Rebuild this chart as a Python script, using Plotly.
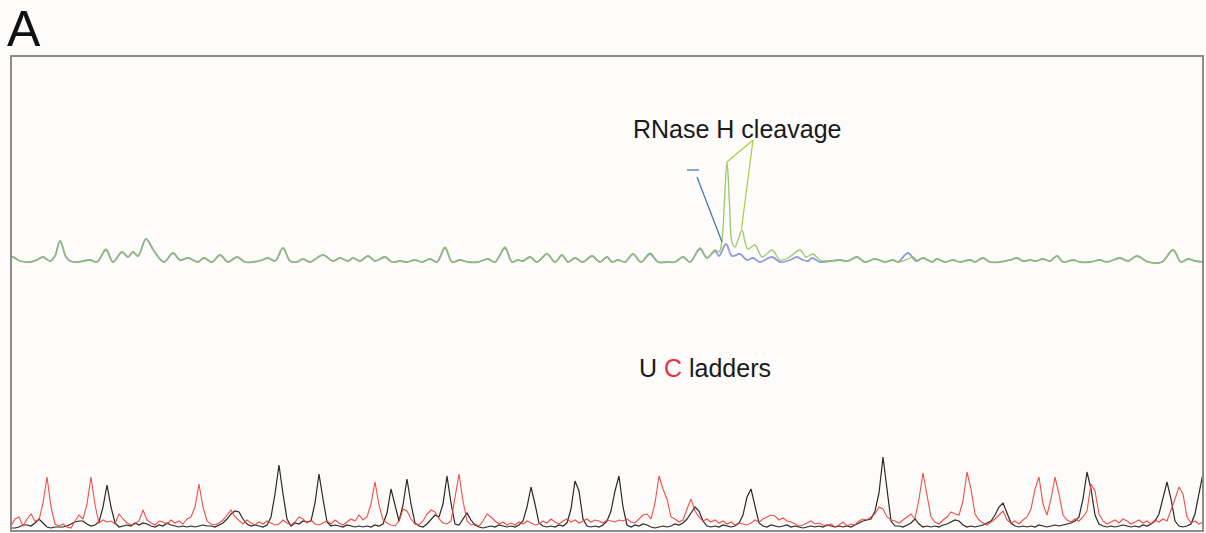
import numpy as np
import plotly.graph_objects as go

# ---------------------------------------------------------------------------
# Upper panel: RNase H probing traces (extrema of each smoothed trace)
# scan position, signal above baseline
# ---------------------------------------------------------------------------
blue_scan = [11, 13, 20, 30, 37, 43, 50, 55, 60, 66, 70, 78, 90, 97, 106, 113, 122, 128, 133, 138,
             146, 154, 164, 173, 180, 188, 198, 204, 212, 220, 228, 237, 245, 253, 262, 268, 275, 283, 290, 297,
             303, 310, 323, 333, 340, 348, 353, 360, 368, 375, 385, 392, 400, 407, 415, 422, 430, 437, 445, 452,
             460, 468, 478, 488, 495, 505, 512, 518, 523, 530, 537, 547, 555, 562, 568, 575, 583, 592, 600, 607,
             612, 618, 625, 633, 641, 650, 658, 667, 675, 683, 690, 700, 707, 715, 719, 726, 732, 740, 747, 753,
             760, 772, 780, 790, 797, 803, 808, 812, 820, 830, 840, 848, 857, 865, 875, 885, 893, 898, 908, 916,
             923, 932, 937, 945, 953, 960, 970, 975, 983, 990, 1000, 1010, 1017, 1023, 1030, 1036, 1043, 1050, 1057, 1063,
             1073, 1080, 1090, 1100, 1107, 1120, 1128, 1137, 1148, 1162, 1173, 1181, 1188, 1195, 1203]
blue_signal = [4, 5, 1, 0, 2, 5, 1, 6, 21, 5, 1, 0, 2, 0, 12, 0, 10, 5, 10, 6,
               23, 11, 0, 9, 2, 4, 0, 4, 0, 7, 0, 5, 0, 0, 2, 4, 1, 14, 1, 0,
               3, 0, 7, 1, 4, 1, 4, 1, 6, 1, 5, 0, 1, 0, 2, 0, 3, 0, 14, 0,
               2, 0, 0, 3, 0, 14, 0, 2, 1, 5, 0, 8, 0, 7, 0, 4, 0, 6, 0, 5,
               0, 2, 0, 8, 0, 8, 0, 0, 0, 5, 0, 13, 4, 11, 6, 18, 6, 8, 2, 4,
               0, 5, 0, 2, 5, 2, 1, 4, 0, 1, 2, 1, 5, 0, 3, 0, 2, 0, 9, 1,
               4, 0, 3, 0, 2, 0, 2, 0, 4, 0, 0, 2, 4, 1, 2, 1, 3, 1, 6, 0,
               2, 0, 0, 2, 0, 4, 1, 6, 0, 0, 12, 0, 3, 1, 0]

green_scan = [11, 13, 20, 30, 37, 43, 50, 55, 60, 66, 70, 78, 90, 97, 106, 113, 122, 128, 133, 138,
              146, 154, 164, 173, 180, 188, 198, 204, 212, 220, 228, 237, 245, 253, 262, 268, 275, 283, 290, 297,
              303, 310, 323, 333, 340, 348, 353, 360, 368, 375, 385, 392, 400, 407, 415, 422, 430, 437, 445, 452,
              460, 468, 478, 488, 495, 505, 512, 518, 523, 530, 537, 547, 555, 562, 568, 575, 583, 592, 600, 607,
              612, 618, 625, 633, 641, 650, 658, 667, 675, 683, 690, 700, 707, 715, 719, 722, 724.5, 727, 729.5, 732,
              735, 738, 742, 745, 748, 755, 762, 772, 780, 788, 800, 806, 813, 820, 830, 840, 848, 857, 865, 875,
              885, 893, 898, 908, 913, 918, 923, 932, 937, 945, 953, 960, 970, 975, 983, 990, 1000, 1010, 1017, 1023,
              1030, 1036, 1043, 1050, 1057, 1063, 1073, 1080, 1090, 1100, 1107, 1120, 1128, 1137, 1148, 1162, 1173, 1181, 1188, 1195,
              1203]
green_signal = [4, 5, 1, 0, 2, 5, 1, 6, 21, 5, 1, 0, 2, 0, 13, 0, 10, 5, 10, 6,
                23, 11, 0, 9, 2, 4, 0, 4, 0, 7, 0, 5, 0, 0, 2, 4, 1, 14, 1, 0,
                3, 0, 7, 1, 4, 1, 4, 1, 6, 1, 5, 0, 1, 0, 2, 0, 3, 0, 15, 0,
                2, 0, 0, 3, 0, 15, 0, 2, 1, 5, 0, 8, 0, 7, 0, 4, 0, 6, 0, 5,
                0, 2, 0, 8, 0, 9, 0, 0, 0, 5, 0, 14, 4, 12, 10, 22, 62, 100, 58, 20,
                15, 22, 32, 20, 13, 17, 5, 12, 2, 4, 12, 5, 8, 2, 1, 2, 1, 5, 0, 3,
                0, 2, 0, 3, 5, 1, 4, 0, 3, 0, 2, 0, 2, 0, 4, 0, 0, 2, 4, 1,
                2, 1, 3, 1, 6, 0, 2, 0, 0, 2, 0, 4, 1, 6, 0, 0, 12, 0, 3, 1,
                0]

# ---------------------------------------------------------------------------
# Lower panel: U (black) and C (red) sequencing ladders, one value every 4 scans
# ---------------------------------------------------------------------------
ladder_start = 11
ladder_step = 4

u_ladder = [
    1, 1, 2, 4, 4, 3, 6, 10, 6, 2, 1, 2, 2, 2, 3, 5, 7, 8, 8, 5, 3, 4, 7, 22, 44,
    22, 6, 2, 3, 4, 3, 6, 4, 6, 5, 3, 2, 4, 3, 6, 4, 3, 2, 3, 2, 3, 2, 3, 4, 3,
    3, 2, 4, 6, 10, 15, 18, 17, 10, 5, 3, 4, 3, 2, 4, 12, 35, 64, 35, 10, 3, 6, 5, 8, 7,
    8, 26, 55, 30, 7, 3, 4, 3, 2, 4, 3, 2, 3, 2, 3, 2, 4, 3, 5, 16, 40, 25, 8, 24, 50,
    25, 6, 3, 2, 5, 10, 14, 12, 25, 53, 26, 5, 4, 10, 16, 9, 4, 2, 1, 2, 3, 2, 4, 3, 2,
    3, 2, 4, 8, 22, 42, 25, 6, 3, 2, 3, 2, 4, 3, 6, 20, 48, 38, 10, 3, 2, 3, 2, 4, 8,
    18, 38, 53, 22, 4, 2, 4, 3, 5, 4, 2, 1, 2, 3, 2, 3, 5, 4, 6, 10, 16, 22, 18, 8, 3,
    2, 3, 2, 4, 3, 2, 3, 6, 14, 32, 40, 22, 6, 3, 2, 4, 3, 2, 3, 4, 2, 3, 2, 1, 2,
    3, 2, 3, 2, 4, 3, 2, 3, 2, 3, 2, 4, 6, 8, 9, 10, 18, 36, 72, 40, 8, 3, 3, 2, 4,
    6, 10, 5, 2, 3, 2, 3, 2, 4, 5, 7, 9, 8, 4, 2, 3, 2, 3, 4, 6, 8, 14, 22, 26, 16,
    6, 3, 2, 3, 2, 3, 2, 4, 3, 2, 3, 4, 3, 4, 5, 6, 8, 12, 30, 57, 40, 14, 5, 3, 2,
    3, 2, 3, 4, 3, 2, 3, 2, 4, 3, 5, 8, 15, 32, 47, 30, 8, 3, 2, 3, 5, 15, 35, 56,
]

c_ladder = [
    3, 10, 12, 3, 10, 15, 8, 9, 26, 52, 22, 5, 3, 5, 2, 1, 8, 14, 10, 25, 52, 24, 6, 9, 7,
    8, 5, 15, 10, 6, 4, 5, 8, 19, 9, 6, 4, 8, 7, 5, 9, 6, 8, 5, 10, 12, 22, 45, 22, 8,
    5, 4, 6, 9, 14, 19, 12, 8, 5, 9, 6, 4, 7, 5, 8, 6, 4, 5, 9, 6, 4, 7, 12, 10, 6,
    9, 5, 4, 6, 8, 5, 9, 6, 4, 7, 10, 8, 14, 9, 12, 25, 47, 24, 9, 6, 4, 3, 8, 20, 18,
    10, 5, 4, 8, 15, 19, 17, 10, 6, 5, 8, 30, 55, 28, 8, 4, 5, 3, 8, 15, 12, 8, 5, 7, 4,
    6, 4, 7, 5, 8, 6, 4, 5, 8, 6, 10, 7, 5, 8, 10, 7, 9, 6, 8, 10, 7, 9, 8, 6, 9,
    8, 7, 9, 8, 10, 7, 6, 10, 14, 15, 10, 26, 53, 40, 30, 12, 10, 7, 9, 20, 30, 18, 12, 8, 10,
    7, 9, 6, 8, 5, 7, 4, 6, 5, 4, 6, 9, 7, 10, 12, 14, 13, 9, 11, 8, 7, 5, 3, 4, 6,
    8, 5, 6, 4, 3, 5, 2, 4, 7, 3, 5, 4, 8, 10, 9, 12, 15, 22, 20, 12, 9, 8, 6, 9, 12,
    15, 10, 30, 56, 35, 12, 7, 5, 9, 12, 17, 15, 14, 28, 57, 40, 15, 9, 6, 4, 7, 10, 14, 18, 9,
    6, 8, 5, 9, 12, 20, 40, 52, 25, 14, 30, 52, 35, 14, 9, 7, 10, 8, 12, 18, 45, 38, 15, 8, 5,
    7, 9, 6, 10, 8, 5, 7, 9, 6, 8, 5, 9, 7, 10, 8, 18, 30, 42, 35, 12, 6, 8, 5, 7,
]

ladder_scan = ladder_start + ladder_step * np.arange(len(u_ladder))

# Colours
BLUE = "#7d8ed2"
GREEN = "#8fc55a"
RED = "#ee3d36"
BLACK = "#1e1e1e"
FRAME = "#8c8c8c"
BG = "#fdfcfa"

fig = go.Figure()

# upper traces: blue drawn wider underneath so it shows along the green edge
fig.add_trace(go.Scatter(x=blue_scan, y=blue_signal, mode="lines", yaxis="y",
                         line=dict(color=BLUE, width=1.8, shape="spline", smoothing=1.0),
                         opacity=0.85, hoverinfo="skip", showlegend=False))
fig.add_trace(go.Scatter(x=green_scan, y=green_signal, mode="lines", yaxis="y",
                         line=dict(color=GREEN, width=1.3, shape="spline", smoothing=1.0),
                         opacity=0.9, hoverinfo="skip", showlegend=False))

# lower ladders
fig.add_trace(go.Scatter(x=ladder_scan, y=u_ladder, mode="lines", yaxis="y2",
                         line=dict(color=BLACK, width=1.2),
                         opacity=0.95, hoverinfo="skip", showlegend=False))
fig.add_trace(go.Scatter(x=ladder_scan, y=c_ladder, mode="lines", yaxis="y2",
                         line=dict(color=RED, width=1.1),
                         opacity=0.9, hoverinfo="skip", showlegend=False))

# pointer lines to the cleavage peaks (upper-panel data coordinates)
pointer_color_green = "#a9cc3e"
pointer_color_blue = "#3c72ad"
label_anchor = (753, 122)
green_targets = [(727, 100), (741.5, 33)]
for tx, ty in green_targets:
    fig.add_shape(type="line", xref="x", yref="y",
                  x0=label_anchor[0], y0=label_anchor[1], x1=tx, y1=ty,
                  line=dict(color=pointer_color_green, width=1.2))
fig.add_shape(type="line", xref="x", yref="y", x0=687, y0=92, x1=699, y1=92,
              line=dict(color=pointer_color_blue, width=1.2))
fig.add_shape(type="line", xref="x", yref="y", x0=697, y0=85, x1=722, y1=20,
              line=dict(color=pointer_color_blue, width=1.2))

# panel frame
fig.add_shape(type="rect", xref="paper", yref="paper", x0=0, y0=0, x1=1, y1=1,
              line=dict(color=FRAME, width=2), layer="above")

FONT = "Liberation Sans, Arial, sans-serif"
fig.add_annotation(text="A", xref="paper", yref="paper", x=-0.005, y=1.0558,
                   xanchor="left", yanchor="middle", showarrow=False,
                   font=dict(family=FONT, size=50, color="#111111"))
fig.add_annotation(text="RNase H cleavage", xref="paper", yref="paper", x=0.520, y=0.8453,
                   xanchor="left", yanchor="middle", showarrow=False,
                   font=dict(family=FONT, size=25, color="#1a1a1a"))
fig.add_annotation(text="U <span style='color:#e8343c'>C</span> ladders", xref="paper", yref="paper",
                   x=0.5255, y=0.3432, xanchor="left", yanchor="middle", showarrow=False,
                   font=dict(family=FONT, size=25, color="#1a1a1a"))

fig.update_layout(
    width=1206, height=533,
    margin=dict(l=11, r=3, t=56, b=2),
    paper_bgcolor=BG, plot_bgcolor=BG,
    xaxis=dict(range=[11, 1203], visible=False, showgrid=False, zeroline=False),
    yaxis=dict(range=[-269, 206], visible=False, showgrid=False, zeroline=False),
    yaxis2=dict(range=[-2, 473], visible=False, showgrid=False, zeroline=False,
                overlaying="y"),
)

fig.write_html("out.html")
